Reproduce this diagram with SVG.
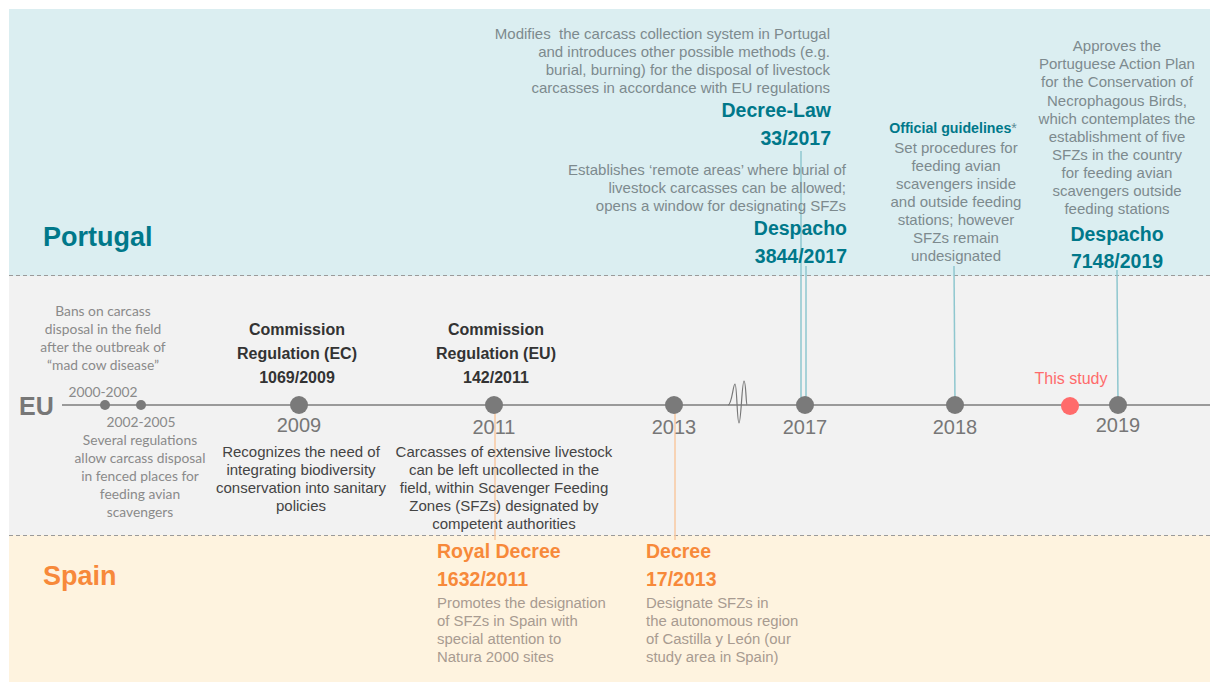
<svg xmlns="http://www.w3.org/2000/svg" width="1210" height="682" viewBox="0 0 1210 682">
  <style>
    .sans { font-family: "Liberation Sans", Arial, sans-serif; }
    .cal { font-family: Lato, "Open Sans", sans-serif; font-size: 13.8px; fill: #8a8a8a; }
    .band-title { font-family: "Liberation Sans", Arial, sans-serif; font-size: 27px; font-weight: bold; }
    .year { font-family: "Liberation Sans", Arial, sans-serif; font-size: 20px; fill: #777777; text-anchor: middle; }
    .eu-head { font-family: "Liberation Sans", Arial, sans-serif; font-size: 16px; font-weight: bold; fill: #333333; text-anchor: middle; }
    .eu-body { font-family: "Liberation Sans", Arial, sans-serif; font-size: 15px; fill: #444444; text-anchor: middle; }
    .pt-head { font-family: "Liberation Sans", Arial, sans-serif; font-size: 19.5px; font-weight: bold; fill: #00788a; }
    .pt-body { font-family: "Liberation Sans", Arial, sans-serif; font-size: 15px; fill: #7d8a8e; }
    .es-head { font-family: "Liberation Sans", Arial, sans-serif; font-size: 19.5px; font-weight: bold; fill: #f7893a; }
    .es-body { font-family: "Liberation Sans", Arial, sans-serif; font-size: 14.9px; fill: #a89b91; }
    .dot { fill: #7a7a7a; }
    .divider { stroke: #9a9a9a; stroke-width: 1; stroke-dasharray: 4 3; fill: none; }
    .lead-pt { stroke: #8fc7cf; stroke-width: 1.5; fill: none; }
    .lead-es { stroke: #f9c8a1; stroke-width: 1.5; fill: none; }
  </style>

  <!-- background bands -->
  <g id="bands">
    <rect x="9" y="9" width="1201" height="267" fill="#dbeef1"/>
    <rect x="9" y="276" width="1201" height="259" fill="#f2f2f2"/>
    <rect x="9" y="535" width="1201" height="147" fill="#fef3df"/>
    <line class="divider" x1="9" y1="275.5" x2="1210" y2="275.5"/>
    <line class="divider" x1="9" y1="535.5" x2="1210" y2="535.5"/>
    <text class="band-title" x="43" y="246" fill="#00788a">Portugal</text>
    <text class="band-title" x="43" y="585" fill="#f7893a">Spain</text>
    <text class="sans" x="19" y="415" font-size="25" font-weight="bold" fill="#777777">EU</text>
  </g>

  <!-- timeline axis and leader lines -->
  <g id="connectors">
    <line x1="62" y1="405" x2="1210" y2="405" stroke="#9a9a9a" stroke-width="2"/>
    <path d="M728,405 C732,405 733,384 735,384 C737,384 737,423 739,423 C741,423 742,381 744,381 C746,381 746,405 747,405" fill="none" stroke="#777777" stroke-width="1.2"/>
    <line class="lead-pt" x1="801" y1="151" x2="801" y2="405"/>
    <line class="lead-pt" x1="806" y1="266" x2="806" y2="405"/>
    <line class="lead-pt" x1="954" y1="266" x2="955" y2="405"/>
    <line class="lead-pt" x1="1117" y1="270" x2="1118" y2="405"/>
    <line class="lead-es" x1="495" y1="405" x2="495" y2="540"/>
    <line class="lead-es" x1="675" y1="405" x2="675" y2="540"/>
  </g>

  <!-- early EU milestones -->
  <g id="eu-2000">
    <circle class="dot" cx="105" cy="405" r="5"/>
    <text class="cal" text-anchor="middle" x="103" y="316">Bans on carcass</text>
    <text class="cal" text-anchor="middle" x="103" y="334">disposal in the field</text>
    <text class="cal" text-anchor="middle" x="103" y="352">after the outbreak of</text>
    <text class="cal" text-anchor="middle" x="103" y="370">“mad cow disease”</text>
    <text class="cal" text-anchor="middle" x="103" y="397">2000-2002</text>
  </g>
  <g id="eu-2002">
    <circle class="dot" cx="141" cy="405" r="5"/>
    <text class="cal" text-anchor="middle" x="141" y="427">2002-2005</text>
    <text class="cal" text-anchor="middle" x="140" y="445">Several regulations</text>
    <text class="cal" text-anchor="middle" x="140" y="463">allow carcass disposal</text>
    <text class="cal" text-anchor="middle" x="140" y="481">in fenced places for</text>
    <text class="cal" text-anchor="middle" x="140" y="499">feeding avian</text>
    <text class="cal" text-anchor="middle" x="140" y="517">scavengers</text>
  </g>

  <g id="eu-2009">
    <circle class="dot" cx="299" cy="405" r="9"/>
    <text class="eu-head" x="297" y="335">Commission</text>
    <text class="eu-head" x="297" y="359">Regulation (EC)</text>
    <text class="eu-head" x="297" y="383">1069/2009</text>
    <text class="year" x="299" y="432">2009</text>
    <text class="eu-body" x="301" y="457">Recognizes the need of</text>
    <text class="eu-body" x="301" y="475">integrating biodiversity</text>
    <text class="eu-body" x="301" y="493">conservation into sanitary</text>
    <text class="eu-body" x="301" y="511">policies</text>
  </g>

  <g id="eu-2011">
    <circle class="dot" cx="494" cy="405" r="9"/>
    <text class="eu-head" x="496" y="335">Commission</text>
    <text class="eu-head" x="496" y="359">Regulation (EU)</text>
    <text class="eu-head" x="496" y="383">142/2011</text>
    <text class="year" x="494" y="434">2011</text>
    <text class="eu-body" x="504" y="457">Carcasses of extensive livestock</text>
    <text class="eu-body" x="504" y="475">can be left uncollected in the</text>
    <text class="eu-body" x="504" y="493">field, within Scavenger Feeding</text>
    <text class="eu-body" x="504" y="511">Zones (SFZs) designated by</text>
    <text class="eu-body" x="504" y="529">competent authorities</text>
  </g>

  <g id="es-2011">
    <text class="es-head" x="437" y="558">Royal Decree</text>
    <text class="es-head" x="437" y="586">1632/2011</text>
    <text class="es-body" x="437" y="608">Promotes the designation</text>
    <text class="es-body" x="437" y="626">of SFZs in Spain with</text>
    <text class="es-body" x="437" y="644">special attention to</text>
    <text class="es-body" x="437" y="662">Natura 2000 sites</text>
  </g>

  <g id="eu-2013">
    <circle class="dot" cx="674" cy="405" r="9"/>
    <text class="year" x="674" y="434">2013</text>
  </g>

  <g id="es-2013">
    <text class="es-head" x="646" y="558">Decree</text>
    <text class="es-head" x="646" y="586">17/2013</text>
    <text class="es-body" x="646" y="608">Designate SFZs in</text>
    <text class="es-body" x="646" y="626">the autonomous region</text>
    <text class="es-body" x="646" y="644">of Castilla y León (our</text>
    <text class="es-body" x="646" y="662">study area in Spain)</text>
  </g>

  <g id="eu-2017">
    <circle class="dot" cx="805" cy="405" r="9"/>
    <text class="year" x="805" y="434">2017</text>
  </g>

  <g id="pt-decree-law">
    <text class="pt-body" text-anchor="end" x="830" y="39" xml:space="preserve">Modifies  the carcass collection system in Portugal</text>
    <text class="pt-body" text-anchor="end" x="830" y="57">and introduces other possible methods (e.g.</text>
    <text class="pt-body" text-anchor="end" x="830" y="75">burial, burning) for the disposal of livestock</text>
    <text class="pt-body" text-anchor="end" x="830" y="93">carcasses in accordance with EU regulations</text>
    <text class="pt-head" text-anchor="end" x="831" y="117">Decree-Law</text>
    <text class="pt-head" text-anchor="end" x="831" y="145">33/2017</text>
  </g>

  <g id="pt-despacho-3844">
    <text class="pt-body" text-anchor="end" x="846" y="175">Establishes ‘remote areas’ where burial of</text>
    <text class="pt-body" text-anchor="end" x="846" y="193">livestock carcasses can be allowed;</text>
    <text class="pt-body" text-anchor="end" x="846" y="211">opens a window for designating SFZs</text>
    <text class="pt-head" text-anchor="end" x="847" y="235">Despacho</text>
    <text class="pt-head" text-anchor="end" x="847" y="263">3844/2017</text>
  </g>

  <g id="eu-2018">
    <circle class="dot" cx="955" cy="405" r="9"/>
    <text class="year" x="955" y="434">2018</text>
  </g>

  <g id="pt-guidelines">
    <text class="sans" text-anchor="middle" x="953" y="133" font-size="14.2" font-weight="bold" fill="#00788a">Official guidelines<tspan font-weight="normal" fill="#5f8c95">*</tspan></text>
    <text class="pt-body" text-anchor="middle" x="956" y="153">Set procedures for</text>
    <text class="pt-body" text-anchor="middle" x="956" y="171">feeding avian</text>
    <text class="pt-body" text-anchor="middle" x="956" y="189">scavengers inside</text>
    <text class="pt-body" text-anchor="middle" x="956" y="207">and outside feeding</text>
    <text class="pt-body" text-anchor="middle" x="956" y="225">stations; however</text>
    <text class="pt-body" text-anchor="middle" x="956" y="243">SFZs remain</text>
    <text class="pt-body" text-anchor="middle" x="956" y="261">undesignated</text>
  </g>

  <g id="this-study">
    <circle cx="1070" cy="406" r="9" fill="#ff6b6b"/>
    <text class="sans" text-anchor="middle" x="1071" y="384" font-size="16" fill="#ff6b6b">This study</text>
  </g>

  <g id="eu-2019">
    <circle class="dot" cx="1118" cy="405" r="9"/>
    <text class="year" x="1118" y="432">2019</text>
  </g>

  <g id="pt-despacho-7148">
    <text class="pt-body" text-anchor="middle" x="1117" y="51">Approves the</text>
    <text class="pt-body" text-anchor="middle" x="1117" y="69">Portuguese Action Plan</text>
    <text class="pt-body" text-anchor="middle" x="1117" y="87">for the Conservation of</text>
    <text class="pt-body" text-anchor="middle" x="1117" y="106">Necrophagous Birds,</text>
    <text class="pt-body" text-anchor="middle" x="1117" y="124">which contemplates the</text>
    <text class="pt-body" text-anchor="middle" x="1117" y="142">establishment of five</text>
    <text class="pt-body" text-anchor="middle" x="1117" y="160">SFZs in the country</text>
    <text class="pt-body" text-anchor="middle" x="1117" y="178">for feeding avian</text>
    <text class="pt-body" text-anchor="middle" x="1117" y="196">scavengers outside</text>
    <text class="pt-body" text-anchor="middle" x="1117" y="214">feeding stations</text>
    <text class="pt-head" text-anchor="middle" x="1117" y="241">Despacho</text>
    <text class="pt-head" text-anchor="middle" x="1117" y="268">7148/2019</text>
  </g>
</svg>
